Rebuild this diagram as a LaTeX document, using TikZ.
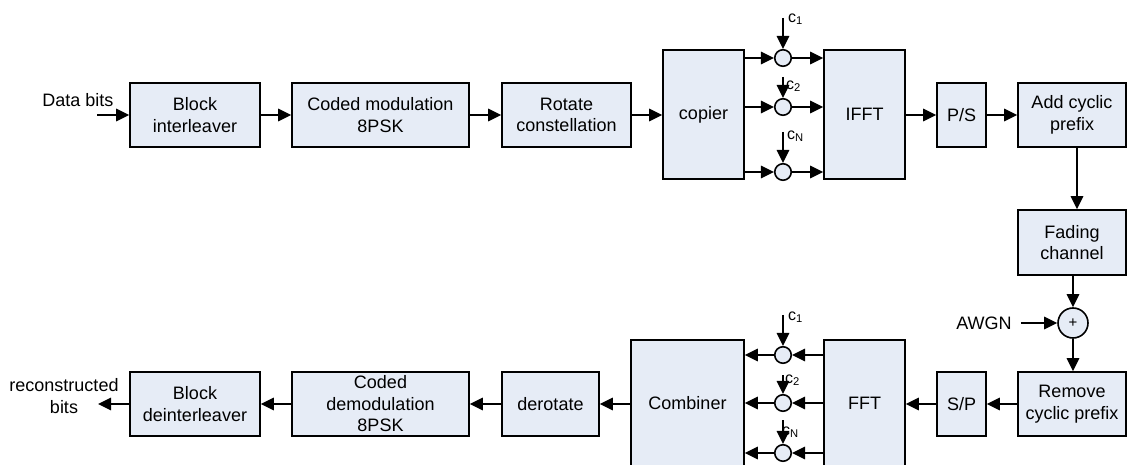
\documentclass[tikz,border=0pt]{standalone}
\usepackage{fontspec}
\setmainfont{Liberation Sans}
\usetikzlibrary{arrows.meta}
\definecolor{boxfill}{RGB}{230,236,246}
\begin{document}
\begin{tikzpicture}[x=1pt,y=-1pt,
  every node/.style={font=\fontsize{18}{21.5}\selectfont, inner sep=0pt},
  blk/.style={draw=black, fill=boxfill, line width=1.6pt, align=center},
  mul/.style={circle, draw=black, fill=boxfill, line width=1.6pt, minimum size=16.5pt},
  arr/.style={line width=1.6pt, -{Triangle[length=13pt,width=12.5pt]}},
  lab/.style={font=\fontsize{16}{18}\selectfont, anchor=west}]
\useasboundingbox (0,0) rectangle (1128,465);
\clip (0,0) rectangle (1128,465);

% ---- top row ----
\node (dbl) at (78,100) {Data bits};
\coordinate (din) at (97,115);
\node[blk, minimum width=130pt, minimum height=64pt] (bi) at (195,115) {Block\\interleaver};
\node[blk, minimum width=177pt, minimum height=64pt] (cm) at (380.5,115) {Coded modulation\\8PSK};
\node[blk, minimum width=129pt, minimum height=64pt] (rc) at (566.5,115) {Rotate\\constellation};
\node[blk, minimum width=81pt, minimum height=129pt] (cop) at (703.5,114.5) {copier};
\node[blk, minimum width=81pt, minimum height=129pt] (ifft) at (864.5,114.5) {IFFT};
\node[blk, minimum width=49pt, minimum height=64pt] (ps) at (961.5,115) {P/S};
\node[blk, minimum width=108pt, minimum height=64pt] (acp) at (1072,115) {Add cyclic\\prefix};

\node[mul] (m1) at (783,58) {};
\node[mul] (m2) at (783,107) {};
\node[mul] (m3) at (783,172) {};
\coordinate (t1) at (783,18);
\coordinate (t2) at (783,77);
\coordinate (t3) at (783,132);
\node[lab] (l1) at (788,19) {c\textsubscript{1}};
\node[lab] (l2) at (786,86) {c\textsubscript{2}};
\node[lab] (l3) at (787,136) {c\textsubscript{N}};

\draw[arr] (din) -- (bi.west);
\draw[arr] (bi) -- (cm);
\draw[arr] (cm) -- (rc);
\draw[arr] (rc.east) -- (rc.east -| cop.west);
\foreach \m/\t in {m1/t1,m2/t2,m3/t3}{
  \draw[arr] (\m -| cop.east) -- (\m);
  \draw[arr] (\m) -- (\m -| ifft.west);
  \draw[arr] (\t) -- (\m);
}
\draw[arr] (ifft.east |- ps) -- (ps);
\draw[arr] (ps) -- (acp);

% ---- right column ----
\node[blk, minimum width=108pt, minimum height=65pt] (fc) at (1072,242.5) {Fading\\channel};
\node[circle, draw=black, fill=boxfill, line width=1.6pt, minimum size=30pt, font=\fontsize{15}{17}\selectfont] (plus) at (1073,323) {+};
\node (awgn) at (984,323) {AWGN};
\node[blk, minimum width=108pt, minimum height=64pt] (rcp) at (1072,404) {Remove\\cyclic prefix};

\draw[arr] (acp.south -| 1077,0) -- (fc.north -| 1077,0);
\draw[arr] (fc.south -| plus) -- (plus);
\draw[arr] (awgn.east) ++(9,0) -- (plus.west);
\draw[arr] (plus) -- (rcp.north -| plus);

% ---- bottom row ----
\node[blk, minimum width=49pt, minimum height=64pt] (sp) at (961.5,404) {S/P};
\node[blk, minimum width=81pt, minimum height=127pt] (fft) at (864.5,403.5) {FFT};
\node[blk, minimum width=113pt, minimum height=127pt] (comb) at (687.5,403.5) {Combiner};
\node[blk, minimum width=97pt, minimum height=64pt] (der) at (550.5,404) {derotate};
\node[blk, minimum width=177pt, minimum height=64pt] (cdm) at (380.5,404) {Coded\\demodulation\\8PSK};
\node[blk, minimum width=130pt, minimum height=64pt] (bdi) at (195,404) {Block\\deinterleaver};
\node[align=center] (rbl) at (64,396) {reconstructed\\bits};
\coordinate (dout) at (98,404);

\node[mul] (n1) at (783,355) {};
\node[mul] (n2) at (783,403) {};
\node[mul] (n3) at (783,453) {};
\coordinate (u1) at (783,315);
\coordinate (u2) at (783,375);
\coordinate (u3) at (783,420);
\node[lab] (k1) at (788,317) {c\textsubscript{1}};
\node[lab] (k2) at (785,380) {c\textsubscript{2}};
\node[lab] (k3) at (782,432) {c\textsubscript{N}};

\draw[arr] (rcp) -- (sp);
\draw[arr] (sp.west) -- (sp.west -| fft.east);
\foreach \m/\t in {n1/u1,n2/u2,n3/u3}{
  \draw[arr] (\m -| fft.west) -- (\m);
  \draw[arr] (\m) -- (\m -| comb.east);
  \draw[arr] (\t) -- (\m);
}
\draw[arr] (comb.west |- der) -- (der);
\draw[arr] (der) -- (cdm);
\draw[arr] (cdm) -- (bdi);
\draw[arr] (bdi.west) -- (dout);
\end{tikzpicture}
\end{document}
